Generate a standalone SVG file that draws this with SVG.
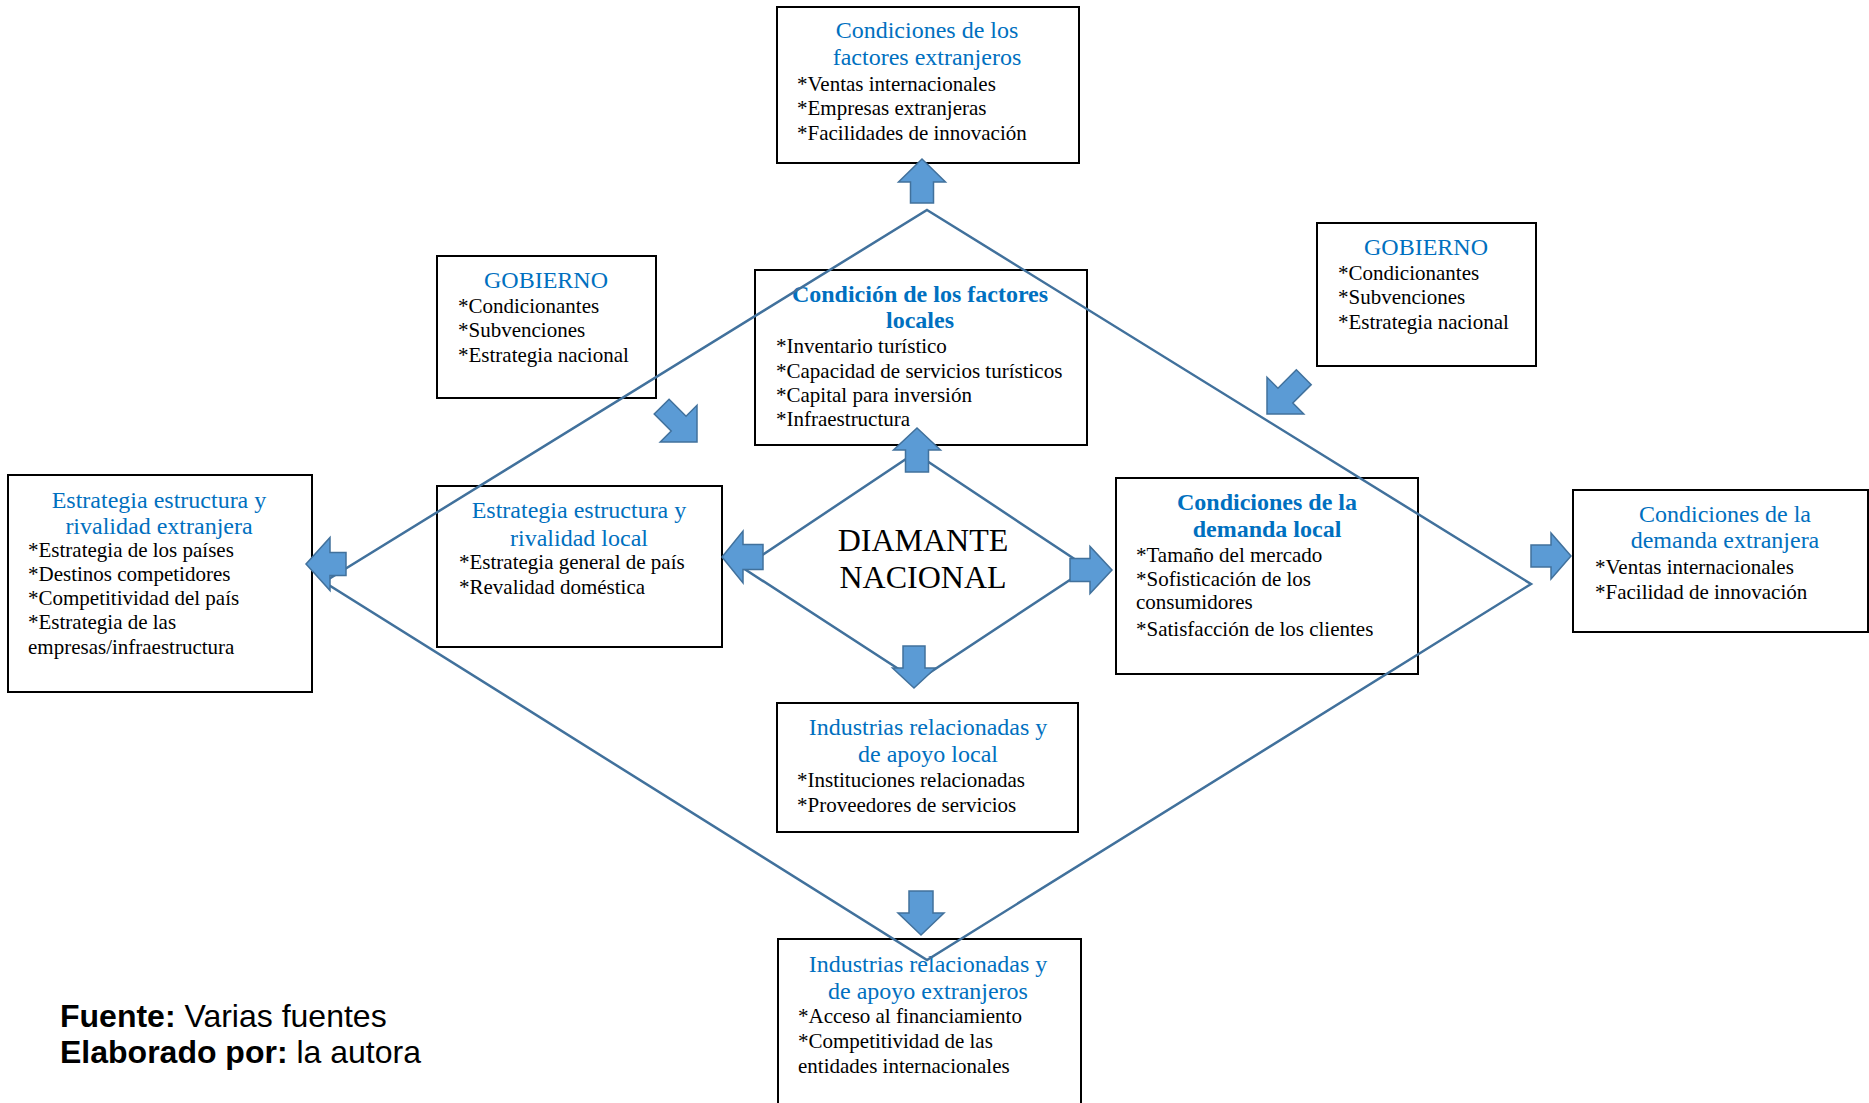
<svg xmlns="http://www.w3.org/2000/svg" width="1869" height="1103" viewBox="0 0 1869 1103">
<style>
.box{fill:#fff;stroke:#000;stroke-width:2}
.t{font-family:"Liberation Serif","Times New Roman",serif;font-size:24px;fill:#0070C0;text-anchor:middle}
.tb{font-weight:bold}
.b{font-family:"Liberation Serif","Times New Roman",serif;font-size:21px;fill:#000}
.dl{fill:none;stroke:#41719C;stroke-width:2.5;stroke-linejoin:miter}
.arr{fill:#5B9BD5;stroke:#41719C;stroke-width:1.5}
.dm{font-family:"Liberation Serif","Times New Roman",serif;font-size:32px;fill:#000;text-anchor:middle}
.src{font-family:"Liberation Sans",Arial,sans-serif;font-size:32px;fill:#000}
</style>
<rect width="1869" height="1103" fill="#fff"/>

<g id="factores-extranjeros">
<rect class="box" x="777" y="7" width="302" height="156"/>
<text class="t" x="927" y="38">Condiciones de los</text>
<text class="t" x="927" y="65">factores extranjeros</text>
<text class="b" x="797" y="91">*Ventas internacionales</text>
<text class="b" x="797" y="115">*Empresas extranjeras</text>
<text class="b" x="797" y="140">*Facilidades de innovación</text>
</g>

<g id="gobierno-izq">
<rect class="box" x="437" y="256" width="219" height="142"/>
<text class="t" x="546" y="288">GOBIERNO</text>
<text class="b" x="458" y="313">*Condicionantes</text>
<text class="b" x="458" y="337">*Subvenciones</text>
<text class="b" x="458" y="362">*Estrategia nacional</text>
</g>

<g id="factores-locales">
<rect class="box" x="755" y="270" width="332" height="175"/>
<text class="t tb" x="920" y="302">Condición de los factores</text>
<text class="t tb" x="920" y="328">locales</text>
<text class="b" x="776" y="353">*Inventario turístico</text>
<text class="b" x="776" y="378">*Capacidad de servicios turísticos</text>
<text class="b" x="776" y="402">*Capital para inversión</text>
<text class="b" x="776" y="426">*Infraestructura</text>
</g>

<g id="gobierno-der">
<rect class="box" x="1317" y="223" width="219" height="143"/>
<text class="t" x="1426" y="255">GOBIERNO</text>
<text class="b" x="1338" y="280">*Condicionantes</text>
<text class="b" x="1338" y="304">*Subvenciones</text>
<text class="b" x="1338" y="329">*Estrategia nacional</text>
</g>

<g id="estrategia-extranjera">
<rect class="box" x="8" y="475" width="304" height="217"/>
<text class="t" x="159" y="508">Estrategia estructura y</text>
<text class="t" x="159" y="534">rivalidad extranjera</text>
<text class="b" x="28" y="557">*Estrategia de los países</text>
<text class="b" x="28" y="581">*Destinos competidores</text>
<text class="b" x="28" y="605">*Competitividad del país</text>
<text class="b" x="28" y="629">*Estrategia de las</text>
<text class="b" x="28" y="654">empresas/infraestructura</text>
</g>

<g id="estrategia-local">
<rect class="box" x="437" y="486" width="285" height="161"/>
<text class="t" x="579" y="518">Estrategia estructura y</text>
<text class="t" x="579" y="546">rivalidad local</text>
<text class="b" x="459" y="569">*Estrategia general de país</text>
<text class="b" x="459" y="594">*Revalidad doméstica</text>
</g>

<g id="demanda-local">
<rect class="box" x="1116" y="478" width="302" height="196"/>
<text class="t tb" x="1267" y="510">Condiciones de la</text>
<text class="t tb" x="1267" y="537">demanda local</text>
<text class="b" x="1136" y="562">*Tamaño del mercado</text>
<text class="b" x="1136" y="586">*Sofisticación de los</text>
<text class="b" x="1136" y="609">consumidores</text>
<text class="b" x="1136" y="636">*Satisfacción de los clientes</text>
</g>

<g id="demanda-extranjera">
<rect class="box" x="1573" y="490" width="295" height="142"/>
<text class="t" x="1725" y="522">Condiciones de la</text>
<text class="t" x="1725" y="548">demanda extranjera</text>
<text class="b" x="1595" y="574">*Ventas internacionales</text>
<text class="b" x="1595" y="599">*Facilidad de innovación</text>
</g>

<g id="industrias-local">
<rect class="box" x="777" y="703" width="301" height="129"/>
<text class="t" x="928" y="735">Industrias relacionadas y</text>
<text class="t" x="928" y="762">de apoyo local</text>
<text class="b" x="797" y="787">*Instituciones relacionadas</text>
<text class="b" x="797" y="812">*Proveedores de servicios</text>
</g>

<g id="industrias-extranjeros">
<rect class="box" x="778" y="939" width="303" height="200"/>
<text class="t" x="928" y="972">Industrias relacionadas y</text>
<text class="t" x="928" y="999">de apoyo extranjeros</text>
<text class="b" x="798" y="1023">*Acceso al financiamiento</text>
<text class="b" x="798" y="1048">*Competitividad de las</text>
<text class="b" x="798" y="1073">entidades internacionales</text>
</g>

<g id="diamante">
<text class="dm" x="923" y="551">DIAMANTE</text>
<text class="dm" x="923" y="588">NACIONAL</text>
</g>

<g id="connectors">
<polygon class="dl" points="927,210 1531,584 927,960 324,582"/>
<polygon class="dl" points="915,453 1088,568 917,681 743,568"/>
<polygon class="arr" transform="translate(922,159) rotate(-90)" points="0,0 -23,-23.5 -23,-11.5 -44,-11.5 -44,11.5 -23,11.5 -23,23.5"/>
<polygon class="arr" transform="translate(921,935) rotate(90)" points="0,0 -22,-23 -22,-12 -44,-12 -44,12 -22,12 -22,23"/>
<polygon class="arr" transform="translate(306,564) rotate(180)" points="0,0 -24,-26.5 -24,-11.5 -40,-11.5 -40,11.5 -24,11.5 -24,26.5"/>
<polygon class="arr" transform="translate(1571,556)" points="0,0 -20,-23 -20,-11 -40,-11 -40,11 -20,11 -20,23"/>
<polygon class="arr" transform="translate(917,428) rotate(-90)" points="0,0 -22,-23.5 -22,-11.5 -44,-11.5 -44,11.5 -22,11.5 -22,23.5"/>
<polygon class="arr" transform="translate(914,688) rotate(90)" points="0,0 -20,-21.5 -20,-11 -42,-11 -42,11 -20,11 -20,21.5"/>
<polygon class="arr" transform="translate(722,557) rotate(180)" points="0,0 -21,-26 -21,-12.5 -41,-12.5 -41,12.5 -21,12.5 -21,26"/>
<polygon class="arr" transform="translate(1112,570)" points="0,0 -22,-23.5 -22,-11.5 -42,-11.5 -42,11.5 -22,11.5 -22,23.5"/>
<polygon class="arr" transform="translate(697,442) rotate(45)" points="0,0 -26,-26 -26,-10.5 -50,-10.5 -50,10.5 -26,10.5 -26,26"/>
<polygon class="arr" transform="translate(1267,414) rotate(135)" points="0,0 -26,-26 -26,-10.5 -52,-10.5 -52,10.5 -26,10.5 -26,26"/>
</g>

<g id="fuente">
<text class="src" x="60" y="1027"><tspan font-weight="bold">Fuente:</tspan> Varias fuentes</text>
<text class="src" x="60" y="1063"><tspan font-weight="bold">Elaborado por:</tspan> la autora</text>
</g>
</svg>
